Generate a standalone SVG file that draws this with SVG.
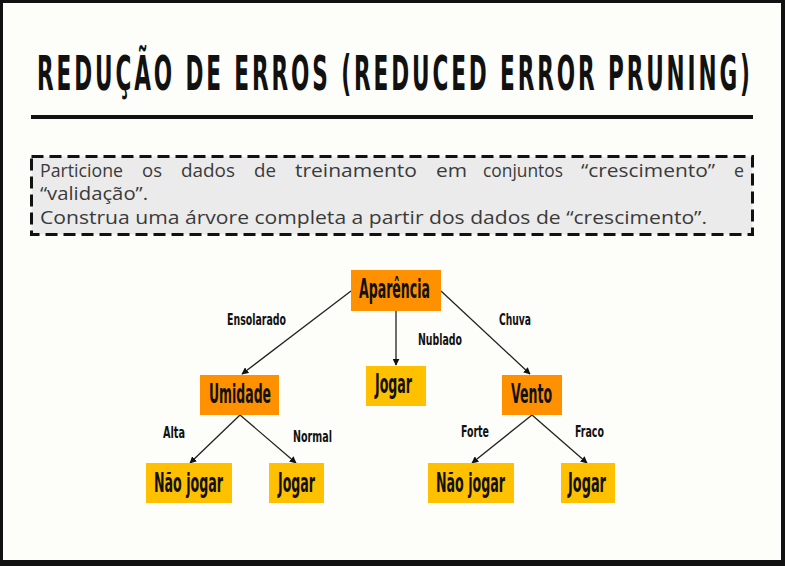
<svg xmlns="http://www.w3.org/2000/svg" width="785" height="566" viewBox="0 0 785 566">
<defs>
<style>
.title{font-family:'DejaVu Sans Condensed','Liberation Sans Narrow',sans-serif;font-weight:bold;font-size:48px;fill:#111}
.para{font-family:'Open Sans','Noto Sans',sans-serif;font-size:17.5px;fill:#3a3a3a}
.node text{font-family:'DejaVu Sans Condensed','Liberation Sans Narrow',sans-serif;font-weight:bold;font-size:26px;fill:#111}
.lbl{font-family:'DejaVu Sans Condensed','Liberation Sans Narrow',sans-serif;font-weight:bold;font-size:16px;fill:#111}
.dec{fill:#ff9100}
.leaf{fill:#ffc000}
.edge{stroke:#222;stroke-width:1.3;fill:none;marker-end:url(#arr)}
</style>
<marker id="arr" viewBox="0 0 10 10" refX="9" refY="5" markerWidth="7" markerHeight="7" markerUnits="userSpaceOnUse" orient="auto">
<path d="M0,0 L10,5 L0,10 z" fill="#111"/>
</marker>
</defs>
<rect x="0" y="0" width="785" height="566" fill="#111"/>
<rect x="3" y="3" width="778" height="557" fill="#fdfdf9"/>
<g transform="translate(37,90) scale(0.5,1)">
<text class="title" x="0" y="0" textLength="1426" lengthAdjust="spacing">REDUÇÃO DE ERROS (REDUCED ERROR PRUNING)</text>
</g>
<rect x="31" y="115" width="722" height="4" fill="#111"/>
<rect x="31.5" y="156.5" width="721" height="78" fill="#ebebeb" stroke="#111" stroke-width="3" stroke-dasharray="12,6"/>
<text class="para" y="177">
<tspan x="40" textLength="83" lengthAdjust="spacingAndGlyphs">Particione</tspan>
<tspan x="142" textLength="20" lengthAdjust="spacingAndGlyphs">os</tspan>
<tspan x="181" textLength="54" lengthAdjust="spacingAndGlyphs">dados</tspan>
<tspan x="254" textLength="22" lengthAdjust="spacingAndGlyphs">de</tspan>
<tspan x="295" textLength="122" lengthAdjust="spacingAndGlyphs">treinamento</tspan>
<tspan x="436" textLength="31" lengthAdjust="spacingAndGlyphs">em</tspan>
<tspan x="483" textLength="80" lengthAdjust="spacingAndGlyphs">conjuntos</tspan>
<tspan x="581" textLength="134" lengthAdjust="spacingAndGlyphs">“crescimento”</tspan>
<tspan x="734" textLength="10" lengthAdjust="spacingAndGlyphs">e</tspan>
</text>
<text class="para" x="40" y="200" textLength="108" lengthAdjust="spacingAndGlyphs">“validação”.</text>
<text class="para" x="40" y="224" textLength="667" lengthAdjust="spacingAndGlyphs">Construa uma árvore completa a partir dos dados de “crescimento”.</text>
<g id="connectors">
<line class="edge" x1="351" y1="291" x2="242" y2="374"/>
<line class="edge" x1="396" y1="311" x2="396" y2="365"/>
<line class="edge" x1="441" y1="291" x2="530" y2="374"/>
<line class="edge" x1="240" y1="415" x2="190" y2="463"/>
<line class="edge" x1="240" y1="415" x2="296" y2="463"/>
<line class="edge" x1="532" y1="415" x2="472" y2="463"/>
<line class="edge" x1="532" y1="415" x2="587" y2="463"/>
<text class="lbl" x="227" y="325" textLength="59" lengthAdjust="spacingAndGlyphs">Ensolarado</text>
<text class="lbl" x="418" y="345" textLength="44" lengthAdjust="spacingAndGlyphs">Nublado</text>
<text class="lbl" x="499" y="325" textLength="32" lengthAdjust="spacingAndGlyphs">Chuva</text>
<text class="lbl" x="163" y="438" textLength="22" lengthAdjust="spacingAndGlyphs">Alta</text>
<text class="lbl" x="293" y="442" textLength="39" lengthAdjust="spacingAndGlyphs">Normal</text>
<text class="lbl" x="461" y="437" textLength="28" lengthAdjust="spacingAndGlyphs">Forte</text>
<text class="lbl" x="575" y="437" textLength="29" lengthAdjust="spacingAndGlyphs">Fraco</text>
</g>
<g id="n-aparencia" class="node"><rect class="dec" x="351" y="270" width="90" height="41"/><text x="359" y="298" textLength="71" lengthAdjust="spacingAndGlyphs">Aparência</text></g>
<g id="n-jogar1" class="node"><rect class="leaf" x="366" y="366" width="60" height="40"/><text x="375" y="393" textLength="37" lengthAdjust="spacingAndGlyphs">Jogar</text></g>
<g id="n-umidade" class="node"><rect class="dec" x="200" y="375" width="79" height="40"/><text x="209" y="403" textLength="62" lengthAdjust="spacingAndGlyphs">Umidade</text></g>
<g id="n-vento" class="node"><rect class="dec" x="502" y="375" width="60" height="40"/><text x="511" y="403" textLength="41" lengthAdjust="spacingAndGlyphs">Vento</text></g>
<g id="n-naojogar1" class="node"><rect class="leaf" x="146" y="463" width="86" height="40"/><text x="154" y="492" textLength="69" lengthAdjust="spacingAndGlyphs">Não jogar</text></g>
<g id="n-jogar2" class="node"><rect class="leaf" x="269" y="463" width="55" height="40"/><text x="278" y="492" textLength="37" lengthAdjust="spacingAndGlyphs">Jogar</text></g>
<g id="n-naojogar2" class="node"><rect class="leaf" x="428" y="463" width="86" height="40"/><text x="436" y="492" textLength="69" lengthAdjust="spacingAndGlyphs">Não jogar</text></g>
<g id="n-jogar3" class="node"><rect class="leaf" x="561" y="463" width="54" height="40"/><text x="568" y="492" textLength="38" lengthAdjust="spacingAndGlyphs">Jogar</text></g>
</svg>
